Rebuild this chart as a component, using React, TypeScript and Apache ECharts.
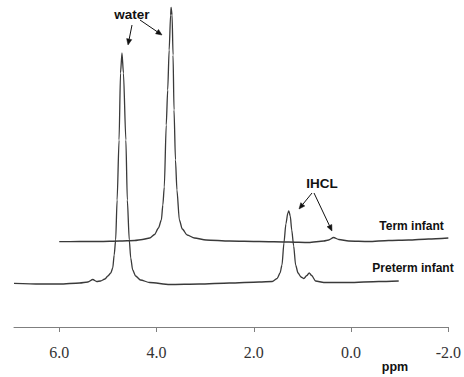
import React, { useEffect, useRef } from "react";
import * as echarts from "echarts";

// Chemical shift (ppm) and signal intensity (arbitrary units)
const pretermPpm = [6.93, 6.4, 5.99, 5.58, 5.41, 5.31, 5.23, 5.15, 5.06, 5.0, 4.94, 4.9, 4.87, 4.84, 4.81, 4.77, 4.74, 4.71, 4.68, 4.63, 4.6, 4.56, 4.53, 4.49, 4.43, 4.33, 4.14, 3.73, 3.12, 2.5, 1.89, 1.62, 1.52, 1.46, 1.42, 1.38, 1.34, 1.3, 1.28, 1.25, 1.22, 1.18, 1.14, 1.09, 1.03, 0.97, 0.91, 0.86, 0.81, 0.73, 0.56, 0.05, -0.57, -0.98];
const pretermInt = [43.7, 43, 43, 44, 45, 47.5, 45.5, 46, 48, 51, 54, 59, 72, 87, 127, 187, 254, 274, 254, 187, 127, 87, 69, 57, 51, 47, 44.5, 42.5, 43, 44, 45, 45.5, 48.5, 54, 62, 84, 103, 114, 116, 111, 97, 81, 62, 54, 50, 48.5, 51.5, 54, 51.5, 46, 44.5, 44.5, 45.5, 46];

const termPpm = [6.0, 5.58, 5.17, 4.76, 4.45, 4.29, 4.14, 4.04, 3.96, 3.9, 3.87, 3.84, 3.8, 3.77, 3.74, 3.71, 3.7, 3.68, 3.66, 3.64, 3.61, 3.58, 3.53, 3.47, 3.37, 3.22, 2.98, 2.5, 1.89, 1.28, 0.87, 0.56, 0.46, 0.36, 0.25, 0.05, -0.36, -0.77, -1.18, -1.59, -2.0];
const termInt = [85.3, 85.5, 85.5, 86, 86.5, 87.5, 89, 92.5, 99, 107, 122, 140, 202, 237, 277, 312, 319.5, 312, 272, 217, 167, 137, 107, 98, 92, 89, 87, 86, 85.5, 85, 84.5, 86, 87, 89.5, 87.5, 86, 85.5, 86.5, 87, 88, 89];

const tickValues = [6, 4, 2, 0, -2];

const seriesNames = ["Term infant", "Preterm infant"];

function arrow(x1: number, y1: number, x2: number, y2: number, color: string) {
  const ang = Math.atan2(y2 - y1, x2 - x1);
  const len = 6;
  const half = 2.6;
  const bx = x2 - len * Math.cos(ang);
  const by = y2 - len * Math.sin(ang);
  const px = -Math.sin(ang) * half;
  const py = Math.cos(ang) * half;
  return [
    { type: "line", shape: { x1, y1, x2: bx, y2: by }, style: { stroke: color, lineWidth: 1 } },
    {
      type: "polygon",
      shape: { points: [[x2, y2], [bx + px, by + py], [bx - px, by - py]] },
      style: { fill: color, stroke: color, lineWidth: 0.5 },
    },
  ];
}

export default function App() {
  const ref = useRef<HTMLDivElement>(null);
  useEffect(() => {
    if (!ref.current) return;
    const chart = echarts.init(ref.current, null, { renderer: "svg" });
    const sans = "Liberation Sans";
    const serif = "Liberation Serif";
    const ink = "#111111";
    const lineColor = "#3a3a3a";
    chart.setOption({
      animation: false,
      backgroundColor: "#ffffff",
      grid: { left: 14, right: 14, top: 0, bottom: 50, containLabel: false },
      xAxis: {
        type: "value",
        inverse: true,
        min: -2,
        max: 6.93,
        interval: 2,
        axisLine: { show: true, lineStyle: { color: "#7f7f7f", width: 1 } },
        axisTick: { show: true, length: 5, lineStyle: { color: "#7f7f7f" }, customValues: tickValues },
        axisLabel: {
          formatter: (v: number) => (tickValues.some((t) => Math.abs(t - v) < 1e-6) ? `{s|${v.toFixed(1)}}` : ""),
          rich: { s: { fontFamily: serif, fontSize: 16, color: "#333333" } },
          fontFamily: serif,
          fontSize: 16,
          color: "#333333",
          margin: 17,
        },
        splitLine: { show: false },
      },
      yAxis: {
        type: "value",
        min: 0,
        max: 327,
        show: false,
      },
      series: [
        {
          name: seriesNames[0],
          type: "line",
          data: termPpm.map((p, i) => [p, termInt[i]]),
          showSymbol: false,
          smooth: 0.25,
          smoothMonotone: "x",
          lineStyle: { color: lineColor, width: 1.3 },
        },
        {
          name: seriesNames[1],
          type: "line",
          data: pretermPpm.map((p, i) => [p, pretermInt[i]]),
          showSymbol: false,
          smooth: 0.25,
          smoothMonotone: "x",
          lineStyle: { color: lineColor, width: 1.3 },
        },
      ],
      graphic: [
        { type: "text", x: 132, y: 14, style: { text: "water", fontFamily: sans, fontWeight: "bold", fontSize: 13.5, fill: ink, align: "center", verticalAlign: "middle" } },
        ...arrow(132, 25, 128, 45, ink),
        ...arrow(140, 20, 162, 35, ink),
        { type: "text", x: 322, y: 183, style: { text: "IHCL", fontFamily: sans, fontWeight: "bold", fontSize: 13.5, fill: ink, align: "center", verticalAlign: "middle" } },
        ...arrow(312, 193, 299, 209, ink),
        ...arrow(314, 193, 332, 231, ink),
        { type: "text", x: 411.5, y: 226, style: { text: seriesNames[0], fontFamily: sans, fontWeight: "bold", fontSize: 12, fill: ink, align: "center", verticalAlign: "middle" } },
        { type: "text", x: 413, y: 268, style: { text: seriesNames[1], fontFamily: sans, fontWeight: "bold", fontSize: 12, fill: ink, align: "center", verticalAlign: "middle" } },
        { type: "text", x: 395, y: 367, style: { text: "ppm", fontFamily: sans, fontWeight: "bold", fontSize: 12.5, fill: ink, align: "center", verticalAlign: "middle" } },
      ],
    });
    return () => chart.dispose();
  }, []);
  return <div ref={ref} style={{ position: "absolute", left: 0, top: 0, width: 464, height: 377 }} />;
}
